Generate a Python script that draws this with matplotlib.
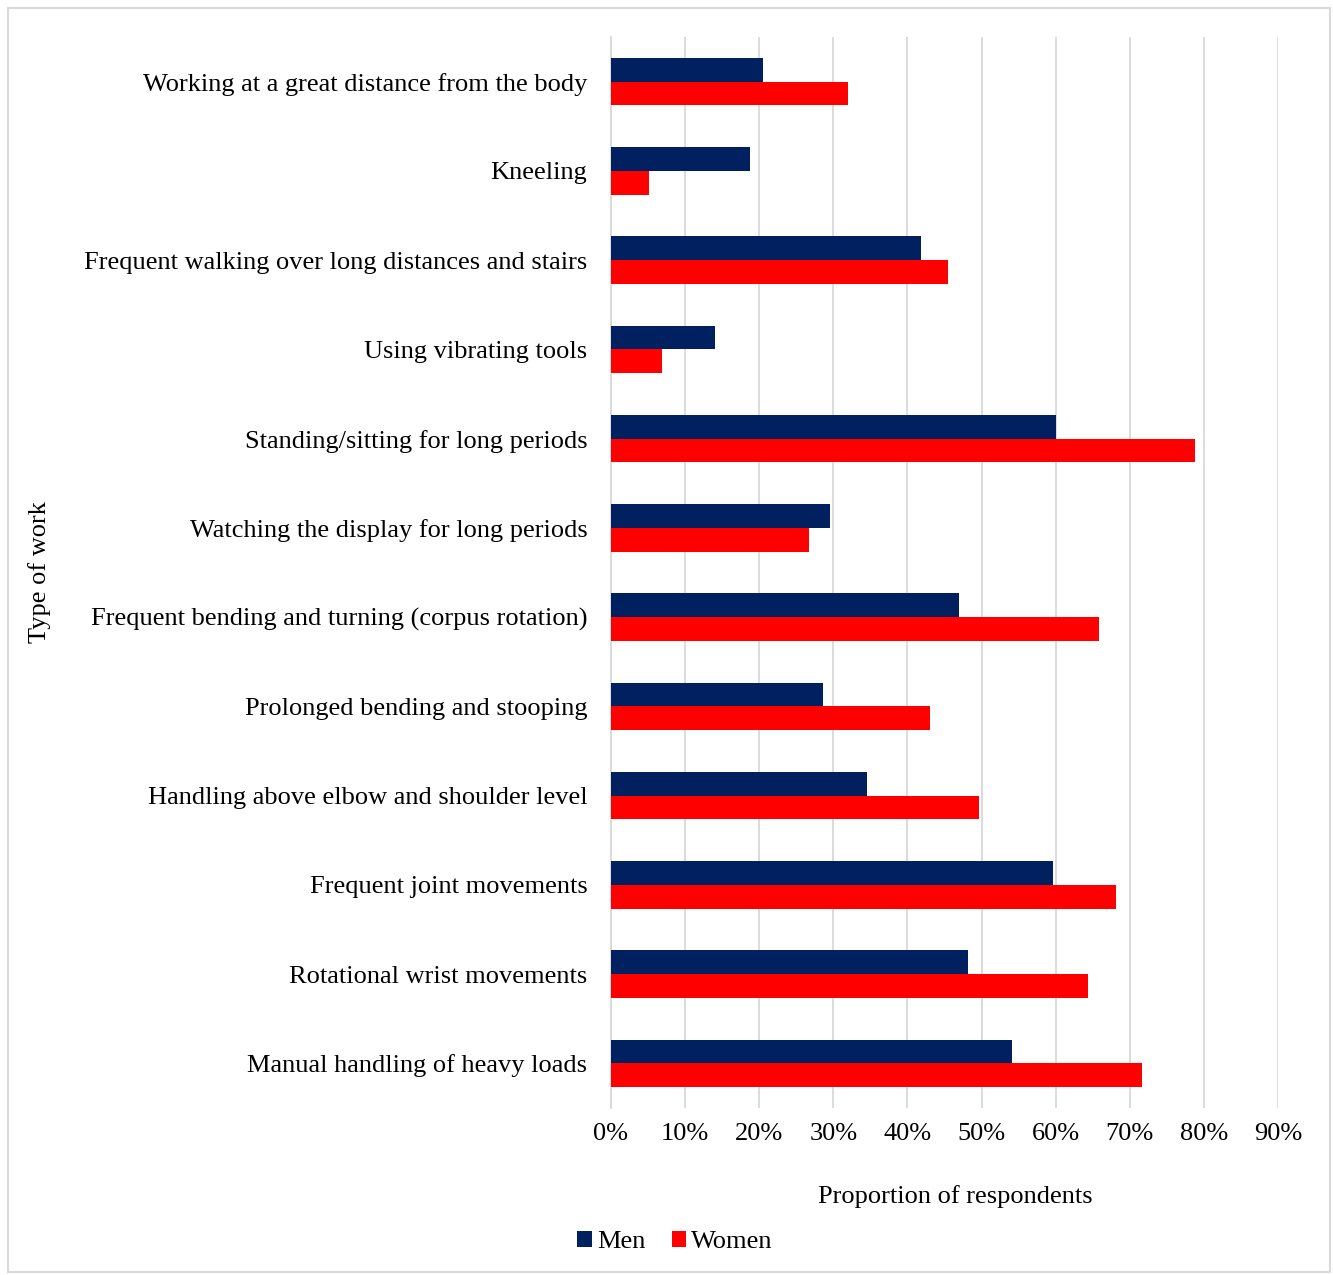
import matplotlib
matplotlib.use("Agg")
import matplotlib.pyplot as plt
import matplotlib.patches as mpatches
from matplotlib.ticker import PercentFormatter, MultipleLocator
import numpy as np

plt.rcParams['font.family'] = ['Liberation Serif', 'DejaVu Serif']

categories = [
    "Manual handling of heavy loads",
    "Rotational wrist movements",
    "Frequent joint movements",
    "Handling above elbow and shoulder level",
    "Prolonged bending and stooping",
    "Frequent bending and turning (corpus rotation)",
    "Watching the display for long periods",
    "Standing/sitting for long periods",
    "Using vibrating tools",
    "Frequent walking over long distances and stairs",
    "Kneeling",
    "Working at a great distance from the body",
]
men = [0.541, 0.482, 0.597, 0.346, 0.286, 0.469, 0.295, 0.600, 0.140, 0.418, 0.188, 0.205]
women = [0.716, 0.644, 0.681, 0.497, 0.431, 0.659, 0.267, 0.788, 0.069, 0.455, 0.051, 0.320]

men_color = "#002060"
women_color = "#FF0000"
FS = 19

fig = plt.figure(figsize=(13.33, 12.75), dpi=100)
ax = fig.add_axes([611/1333, 1 - 1108/1275, (1278 - 611)/1333, (1108 - 37)/1275])

y = np.arange(len(categories))
h = 0.265
ax.barh(y + h/2, men, height=h, color=men_color, label="Men", zorder=3)
ax.barh(y - h/2, women, height=h, color=women_color, label="Women", zorder=3)

ax.set_xlim(0, 0.9)
ax.set_ylim(-0.5, len(categories) - 0.5)
ax.xaxis.set_major_locator(MultipleLocator(0.1))
ax.xaxis.set_major_formatter(PercentFormatter(1.0, decimals=0))
ax.grid(axis='x', color='#d9d9d9', linewidth=1.3, zorder=0)
ax.set_axisbelow(True)
for s in ['top', 'right', 'bottom']:
    ax.spines[s].set_visible(False)
ax.spines['left'].set_color('#d9d9d9')
ax.spines['left'].set_linewidth(1.3)

ax.set_yticks(y)
ax.set_yticklabels(categories, fontsize=FS)
ax.tick_params(axis='y', length=0, pad=17)
ax.tick_params(axis='x', length=0, pad=11, labelsize=FS)

fig.text(955/1333, 1 - 1197/1275, "Proportion of respondents", fontsize=FS,
         ha='center', va='center')
fig.text(40/1333, 1 - 572/1275, "Type of work", rotation=90, fontsize=FS,
         ha='center', va='center')

fig.legend(loc='center', bbox_to_anchor=(675/1333, 1 - 1242/1275), ncol=2,
           frameon=False, fontsize=FS, handlelength=0.55, handleheight=0.55,
           handletextpad=0.2, columnspacing=1.0)

fig.patches.append(mpatches.Rectangle((8/1333, 3/1275), 1322/1333, 1264/1275,
                                      transform=fig.transFigure, fill=False,
                                      edgecolor='#d9d9d9', linewidth=1.5))

fig.savefig("out.png", dpi=100)
